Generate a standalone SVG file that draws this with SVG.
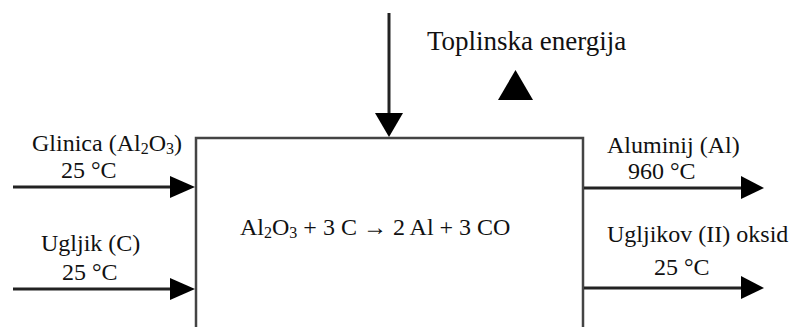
<svg xmlns="http://www.w3.org/2000/svg" width="790" height="327" viewBox="0 0 790 327">
<style>
.ln{stroke:#222;stroke-width:3;fill:none}
.hd{fill:#000}
</style>
<rect width="790" height="327" fill="#fff"/>
<g id="process">
<path d="M196 329 V138 H583 V329" fill="none" stroke="#444" stroke-width="2.5"/>
<text x="240" y="235" font-family="Liberation Serif, serif" font-size="24" fill="#111">Al<tspan font-size="16" dy="3">2</tspan><tspan dy="-3">O</tspan><tspan font-size="16" dy="3">3</tspan><tspan dy="-3"> + 3 C → 2 Al + 3 CO</tspan></text>
</g>
<g id="energy">
<text x="427" y="50" font-family="Liberation Serif, serif" font-size="27" fill="#111">Toplinska energija</text>
<polygon class="hd" points="515.5,70 533,100 498,100"/>
</g>
<g id="in-glinica">
<text x="32" y="151" font-family="Liberation Serif, serif" font-size="24" fill="#111">Glinica (Al<tspan font-size="16" dy="3">2</tspan><tspan dy="-3">O</tspan><tspan font-size="16" dy="3">3</tspan><tspan dy="-3">)</tspan></text>
<text x="61" y="178" font-family="Liberation Serif, serif" font-size="24" fill="#111">25 °C</text>
</g>
<g id="in-ugljik">
<text x="41" y="251" font-family="Liberation Serif, serif" font-size="24" fill="#111">Ugljik (C)</text>
<text x="62" y="280" font-family="Liberation Serif, serif" font-size="24" fill="#111">25 °C</text>
</g>
<g id="out-al">
<text x="607" y="153" font-family="Liberation Serif, serif" font-size="24" fill="#111">Aluminij (Al)</text>
<text x="628" y="179" font-family="Liberation Serif, serif" font-size="24" fill="#111">960 °C</text>
</g>
<g id="out-co">
<text x="607" y="242" font-family="Liberation Serif, serif" font-size="24" fill="#111">Ugljikov (II) oksid</text>
<text x="654" y="275" font-family="Liberation Serif, serif" font-size="24" fill="#111">25 °C</text>
</g>
<g id="connectors">
<line class="ln" x1="389" y1="13" x2="389" y2="115"/>
<polygon class="hd" points="375,113 403,113 389,137"/>
<line class="ln" x1="13" y1="187" x2="172" y2="187"/>
<polygon class="hd" points="170,176 170,198 195,187"/>
<line class="ln" x1="13" y1="289" x2="172" y2="289"/>
<polygon class="hd" points="170,278 170,300 195,289"/>
<line class="ln" x1="584" y1="188" x2="743" y2="188"/>
<polygon class="hd" points="741,176 741,199 764,188"/>
<line class="ln" x1="584" y1="288" x2="743" y2="288"/>
<polygon class="hd" points="741,276 741,299 764,288"/>
</g>
</svg>
